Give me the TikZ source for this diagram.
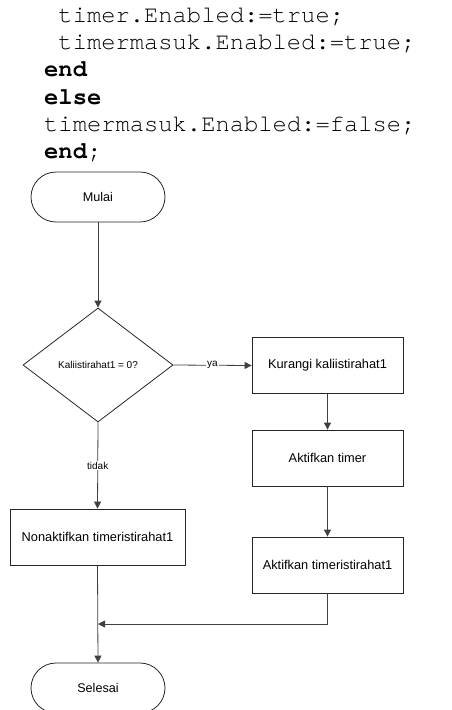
\documentclass[tikz,border=0pt]{standalone}
\usepackage{fontspec}
\setmainfont{Liberation Sans}
\newfontfamily\codefont{TeX Gyre Cursor}
\usetikzlibrary{shapes.geometric,shapes.misc,arrows.meta}
\begin{document}
\begin{tikzpicture}[x=1pt,y=-1pt,
  codeline/.style={anchor=base west,inner sep=0pt,font=\codefont\fontsize{23.8}{24}\selectfont},
  terminal/.style={draw=black!85,line width=0.8pt,rounded rectangle,minimum width=134pt,minimum height=50pt,inner sep=0pt,font=\fontsize{12.6}{14}\selectfont},
  procbox/.style={draw=black!85,line width=0.8pt,rectangle,minimum width=151pt,minimum height=56pt,inner sep=0pt,font=\fontsize{12.8}{14}\selectfont},
  decision/.style={draw=black!85,line width=0.8pt,diamond,minimum width=150pt,minimum height=114pt,inner sep=0pt,font=\fontsize{10}{12}\selectfont},
  arr/.style={draw=black!75,line width=0.8pt,-{Triangle[length=7pt,width=7pt]}},
  lbl/.style={fill=white,inner sep=1pt,font=\fontsize{10}{12}\selectfont}]
\useasboundingbox (0,0) rectangle (452,710);
\clip (0,0) rectangle (452,710);
\node[codeline] (c1) at (44,22) {\ timer.Enabled:=true;};
\node[codeline] (c2) at (44,49) {\ timermasuk.Enabled:=true;};
\node[codeline] (c3) at (44,76.5) {\bfseries end};
\node[codeline] (c4) at (44,104) {\bfseries else};
\node[codeline] (c5) at (44,131) {timermasuk.Enabled:=false;};
\node[codeline] (c6) at (44,158.5) {\textbf{end};};

\node[terminal] (mulai) at (98,197) {Mulai};
\node[decision] (dec) at (98,365) {Kaliistirahat1 = 0?};
\node[procbox] (kur) at (327.5,365.5) {Kurangi kaliistirahat1};
\node[procbox] (akt) at (327.5,458) {Aktifkan timer};
\node[procbox] (akt2) at (327.5,565) {Aktifkan timeristirahat1};
\node[procbox,minimum width=175pt] (non) at (97.5,537) {Nonaktifkan timeristirahat1};
\node[terminal] (sel) at (98,688) {Selesai};
\coordinate (j) at (98,624);

\draw[arr] (mulai.south) -- (dec.north);
\draw[arr] (dec.east) -- node[lbl] {ya} (kur.west);
\draw[arr] (kur.south) -- (akt.north);
\draw[arr] (akt.south) -- (akt2.north);
\draw[arr] (dec.south) -- node[lbl] {tidak} (non.north);
\draw[arr] (akt2.south) |- (j);
\draw[arr] (non.south) -- (sel.north);
\end{tikzpicture}
\end{document}
